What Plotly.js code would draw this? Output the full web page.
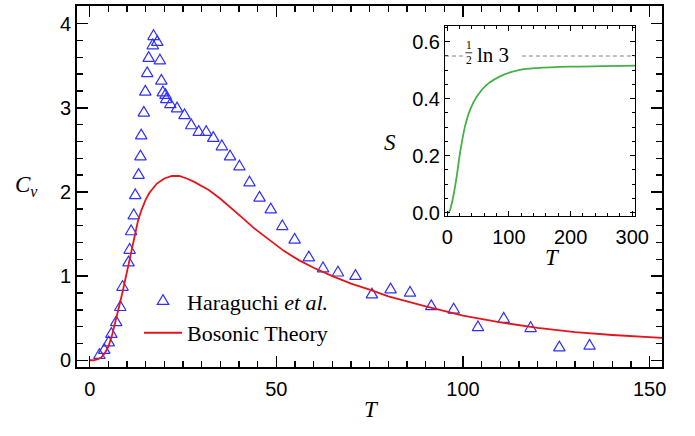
<!DOCTYPE html>
<html>
<head>
<meta charset="utf-8">
<script src="https://cdn.plot.ly/plotly-3.0.1.min.js"></script>
<style>html,body{margin:0;padding:0;background:#fff;}#plot{width:695px;height:436px;}</style>
</head>
<body>
<div id="plot"></div>
<script>
// Haraguchi et al. measured specific heat
var capT = [2.6, 3.9, 5.1, 5.8, 7.1, 8.2, 8.8, 10.4, 10.7, 11.1, 11.8, 12.2, 13.1, 13.6, 13.8, 14.5, 14.9, 15.4, 15.8, 16.9, 17.1, 18.1, 18.8, 19.2, 19.6, 20.3, 20.5, 21.6, 23.4, 25.4, 27.2, 29.2, 31.2, 33.1, 35.4, 37.6, 40.1, 42.8, 45.5, 48.5, 51.6, 54.9, 58.7, 62.5, 66.5, 71.2, 75.6, 80.6, 85.8, 91.5, 97.5, 104.0, 110.9, 118.1, 125.8, 133.9];
var capCv = [0.06, 0.12, 0.21, 0.31, 0.45, 0.63, 0.87, 1.16, 1.31, 1.53, 1.72, 1.96, 2.20, 2.42, 2.67, 2.94, 3.19, 3.41, 3.59, 3.74, 3.85, 3.78, 3.56, 3.32, 3.18, 3.15, 3.10, 3.04, 2.99, 2.91, 2.79, 2.71, 2.71, 2.64, 2.54, 2.42, 2.30, 2.11, 1.93, 1.79, 1.59, 1.43, 1.22, 1.09, 1.04, 1.00, 0.78, 0.84, 0.80, 0.64, 0.60, 0.39, 0.49, 0.38, 0.15, 0.17];
// Bosonic theory curve
var bosT = [0, 1, 2, 3, 4, 5, 6, 7, 8, 9, 10, 11, 12, 13, 14, 15, 16, 17, 18, 20, 22, 24, 26, 28, 30, 32, 35, 38, 41, 44, 48, 52, 56, 60, 65, 70, 75, 80, 90, 100, 110, 120, 130, 140, 153.3];
var bosCv = [0, 0.0, 0.01, 0.03, 0.08, 0.16, 0.30, 0.47, 0.66, 0.85, 1.06, 1.28, 1.50, 1.67, 1.80, 1.91, 1.99, 2.05, 2.10, 2.16, 2.19, 2.19, 2.16, 2.12, 2.07, 2.02, 1.92, 1.81, 1.69, 1.57, 1.43, 1.30, 1.19, 1.10, 1.00, 0.91, 0.84, 0.76, 0.64, 0.53, 0.45, 0.385, 0.335, 0.30, 0.265];
// Inset: entropy
var sT = [0, 2, 4.4, 9.7, 15.2, 20.6, 28.7, 36.8, 47.7, 63.9, 90.8, 117.9, 145, 199, 304.6];
var sS = [0, 0.001, 0.009, 0.056, 0.126, 0.208, 0.302, 0.360, 0.407, 0.448, 0.483, 0.501, 0.507, 0.512, 0.516];
var halfLn3 = 0.5 * Math.log(3);
var mainXTicks = [0, 50, 100, 150];
var mainYTicks = [0, 1, 2, 3, 4];
var insetXTicks = [0, 100, 200, 300];
var insetYTicks = [0, 0.2, 0.4, 0.6];
var insetYLabels = ['0.0', '0.2', '0.4', '0.6'];

var serif = 'Liberation Serif, Times New Roman, serif';
var sans = 'Liberation Sans, Arial, sans-serif';

var data = [
  {x: capT, y: capCv, type: 'scatter', mode: 'markers', name: 'Haraguchi <i>et al.</i>',
   legendgroup: 'a',
   marker: {symbol: 'triangle-up-open', size: 10, color: '#2f2fff', line: {width: 1.2, color: '#2f2fff'}},
   xaxis: 'x', yaxis: 'y'},
  {x: bosT, y: bosCv, type: 'scatter', mode: 'lines', name: 'Bosonic Theory',
   legendgroup: 'b',
   line: {color: '#e3151b', width: 1.8},
   xaxis: 'x', yaxis: 'y'},
  {x: sT, y: sS, type: 'scatter', mode: 'lines', showlegend: false,
   line: {color: '#45b048', width: 1.8, shape: 'spline', smoothing: 0.8},
   xaxis: 'x2', yaxis: 'y2'}
];

var layout = {
  width: 695, height: 436,
  margin: {l: 77, r: 33, t: 6, b: 69},
  paper_bgcolor: '#fff', plot_bgcolor: '#fff',
  showlegend: true,
  legend: {x: 0.106, y: 0.24, xanchor: 'left', yanchor: 'top', bgcolor: 'rgba(0,0,0,0)',
           font: {family: serif, size: 22, color: '#000'}, tracegroupgap: 0, itemwidth: 38},
  xaxis: {domain: [0, 1], range: [-3.4, 153.3], showgrid: false, zeroline: false,
          showline: true, linewidth: 2, linecolor: '#000', mirror: 'allticks',
          ticks: 'inside', ticklen: 11, tickwidth: 1.5, tickcolor: '#000', ticklabelstandoff: 3,
          tickvals: mainXTicks, tickfont: {family: sans, size: 20, color: '#000'},
          minor: {dtick: 5, tick0: 0, ticks: 'inside', ticklen: 6, tickwidth: 1.5, tickcolor: '#000', showgrid: false}},
  yaxis: {domain: [0, 1], range: [-0.08, 4.21], showgrid: false, zeroline: false,
          showline: true, linewidth: 2, linecolor: '#000', mirror: 'allticks',
          ticks: 'inside', ticklen: 11, tickwidth: 1.5, tickcolor: '#000',
          tickvals: mainYTicks, tickfont: {family: sans, size: 20, color: '#000'},
          minor: {dtick: 0.2, tick0: 0, ticks: 'inside', ticklen: 6, tickwidth: 1.5, tickcolor: '#000', showgrid: false}},
  xaxis2: {domain: [0.629, 0.954], anchor: 'y2', range: [-3.7, 304.6], showgrid: false, zeroline: false,
           showline: true, linewidth: 1, linecolor: '#000', mirror: 'allticks',
           ticks: 'inside', ticklen: 5, tickwidth: 1, tickcolor: '#000', ticklabelstandoff: 3,
           tickvals: insetXTicks, tickfont: {family: sans, size: 20, color: '#000'},
           minor: {dtick: 20, tick0: 0, ticks: 'inside', ticklen: 3, tickwidth: 1, tickcolor: '#000', showgrid: false}},
  yaxis2: {domain: [0.418, 0.945], anchor: 'x2', range: [-0.0116, 0.655], showgrid: false, zeroline: false,
           showline: true, linewidth: 1, linecolor: '#000', mirror: 'allticks',
           ticks: 'inside', ticklen: 5, tickwidth: 1, tickcolor: '#000',
           tickvals: insetYTicks, ticktext: insetYLabels, tickfont: {family: sans, size: 20, color: '#000'},
           minor: {dtick: 0.05, tick0: 0, ticks: 'inside', ticklen: 3, tickwidth: 1, tickcolor: '#000', showgrid: false}},
  shapes: [
    {type: 'line', xref: 'x2', yref: 'y2', x0: -3.7, x1: 25, y0: halfLn3, y1: halfLn3,
     line: {color: '#808080', width: 1, dash: '4px,3px'}},
    {type: 'line', xref: 'x2', yref: 'y2', x0: 121, x1: 304.6, y0: halfLn3, y1: halfLn3,
     line: {color: '#808080', width: 1, dash: '4px,3px'}},
    {type: 'line', xref: 'x2', yref: 'y2', x0: 29.5, x1: 40.5, y0: 0.5607, y1: 0.5607,
     line: {color: '#000', width: 0.8}}
  ],
  annotations: [
    {xref: 'paper', yref: 'paper', x: 0.504, y: -0.119, text: '<i>T</i>', showarrow: false,
     xanchor: 'center', yanchor: 'middle', font: {family: serif, size: 23, color: '#000'}},
    {xref: 'paper', yref: 'paper', x: -0.0855, y: 0.501, text: '<i>C<sub>v</sub></i>', showarrow: false,
     xanchor: 'center', yanchor: 'middle', font: {family: serif, size: 23, color: '#000'}},
    {xref: 'paper', yref: 'paper', x: 0.535, y: 0.623, text: '<i>S</i>', showarrow: false,
     xanchor: 'center', yanchor: 'middle', font: {family: serif, size: 23, color: '#000'}},
    {xref: 'paper', yref: 'paper', x: 0.812, y: 0.302, text: '<i>T</i>', showarrow: false,
     xanchor: 'center', yanchor: 'middle', font: {family: serif, size: 23, color: '#000'}},
    {xref: 'x2', yref: 'y2', x: 35, y: 0.5607, text: '1<br>2', showarrow: false,
     xanchor: 'center', yanchor: 'middle', font: {family: serif, size: 11.5, color: '#000'}},
    {xref: 'x2', yref: 'y2', x: 75, y: 0.552, text: 'ln 3', showarrow: false,
     xanchor: 'center', yanchor: 'middle', font: {family: serif, size: 21, color: '#000'}}
  ]
};

Plotly.newPlot('plot', data, layout, {staticPlot: true, displayModeBar: false}).then(function (gd) {
  var pts = gd.querySelectorAll('.scatterlayer .trace path.point');
  pts.forEach(function (p) {
    var t = p.getAttribute('transform') || '';
    p.setAttribute('transform', t + ' scale(1,1.3)');
    p.style.vectorEffect = 'non-scaling-stroke';
  });
  var lp = gd.querySelectorAll('.legend path.scatterpts');
  lp.forEach(function (p) {
    var t = p.getAttribute('transform') || '';
    p.setAttribute('transform', t + ' scale(1,1.3)');
    p.style.vectorEffect = 'non-scaling-stroke';
  });
});
</script>
</body>
</html>
